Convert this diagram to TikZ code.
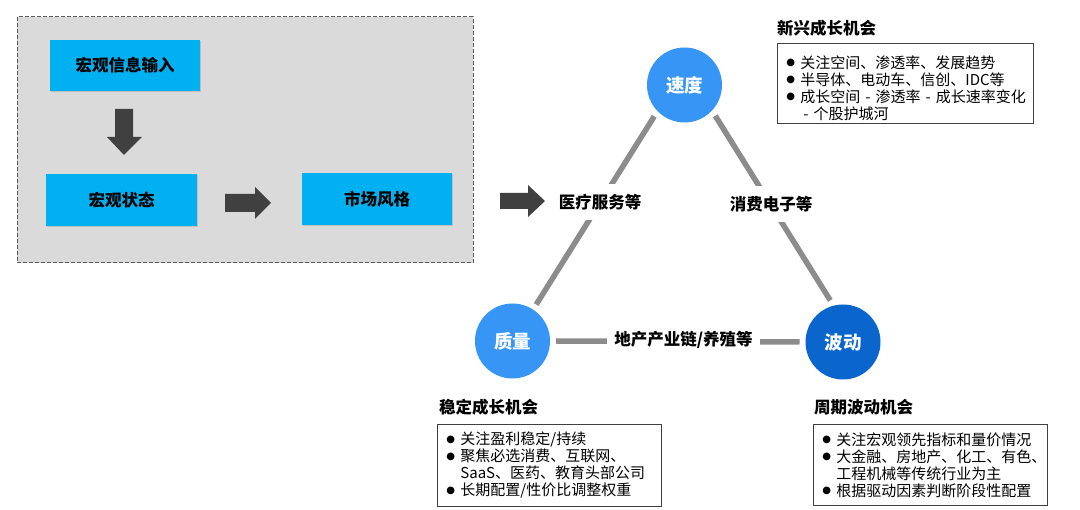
\documentclass[tikz,border=0pt]{standalone}
\usepackage{fontspec}
\setmainfont{Noto Sans CJK SC}
\newfontfamily\djv{DejaVu Sans}
\usetikzlibrary{shadows}
\definecolor{boxcyan}{RGB}{0,176,240}
\definecolor{panelgray}{RGB}{218,218,218}
\definecolor{paneledge}{RGB}{90,90,90}
\definecolor{arrowgray}{RGB}{64,64,64}
\definecolor{edgegray}{RGB}{140,140,140}
\definecolor{lightblue}{RGB}{55,150,245}
\definecolor{darkblue}{RGB}{10,102,204}
\newcommand{\bl}[1]{\makebox[14pt][l]{\raisebox{2.3pt}{\djv\fontsize{10}{10}\selectfont ●}}\mbox{#1}}
\newcommand{\cont}[1]{\hspace*{14pt}\mbox{#1}}
\begin{document}
\begin{tikzpicture}[x=1pt,y=-1pt,
  cyanbox/.style={fill=boxcyan, inner sep=0pt, font=\fontsize{16.5}{20}\selectfont\bfseries,
    drop shadow={shadow xshift=1.2pt, shadow yshift=-1.2pt, opacity=0.3}},
  ball/.style={circle, minimum size=75pt, inner sep=0pt, outer sep=6pt, text=white,
    font=\fontsize{18.5}{22}\selectfont\bfseries},
  edgeline/.style={draw=edgegray, line width=5.5pt},
  edgelabel/.style={fill=white, inner xsep=7pt, inner ysep=0pt, minimum height=36pt,
    font=\fontsize{16.5}{20}\selectfont\bfseries},
  blockarrow/.style={fill=arrowgray},
  infotitle/.style={anchor=west, inner sep=0pt, font=\fontsize{16.5}{20}\selectfont\bfseries},
  infobox/.style={draw=black!75, line width=0.8pt, anchor=north west, align=left,
    inner xsep=9pt, inner ysep=0pt, font=\fontsize{15}{17}\selectfont}
]
\useasboundingbox (0,0) rectangle (1080,510);
\fill[white] (0,0) rectangle (1080,510);

% left panel
\draw[fill=panelgray, draw=paneledge, line width=1pt, dash pattern=on 4pt off 2pt] (17,17) rectangle (473,263);
\node[cyanbox, minimum width=150pt, minimum height=51pt] (input) at (125,65.5) {宏观信息输入};
\node[cyanbox, minimum width=151pt, minimum height=52pt] (state) at (121.5,200) {宏观状态};
\node[cyanbox, minimum width=150pt, minimum height=52pt] (style) at (377,199) {市场风格};

% block arrows
\fill[blockarrow] (115,109) -- (133,109) -- (133,137) -- (142,137) -- (124,155) -- (107,137) -- (115,137) -- cycle;
\fill[blockarrow] (225,194) -- (255,194) -- (255,187) -- (271,203) -- (255,219) -- (255,212) -- (225,212) -- cycle;
\fill[blockarrow] (500,193) -- (528,193) -- (528,185) -- (545,201) -- (528,217) -- (528,209) -- (500,209) -- cycle;

% triangle
\node[ball, fill=lightblue] (speed) at (684.5,85) {速度};
\node[ball, fill=lightblue] (quality) at (512.5,341) {质量};
\node[ball, fill=darkblue] (wave) at (843,342) {波动};

\draw[edgeline] (speed.-134) -- (quality.57);
\draw[edgeline] (speed.-45) -- (wave.107);
\draw[edgeline] (quality.east) -- (wave.west);

\node[edgelabel] (medical) at (600,202.5) {医疗服务等};
\node[edgelabel] (consumer) at (771,204.5) {消费电子等};
\node[edgelabel, minimum height=20pt] (estate) at (683.5,340) {地产产业链/养殖等};

% info boxes
\node[infotitle] (t1) at (777,28) {新兴成长机会};
\node[infobox, minimum width=256pt, minimum height=80pt, text width=238pt] (b1) at (777,43)
  {\rule{0pt}{22pt}\bl{关注空间、渗透率、发展趋势}\\
   \bl{半导体、电动车、信创、IDC等}\\
   \bl{成长空间 - 渗透率 - 成长速率变化}\\
   \cont{\hspace*{3pt}- 个股护城河}};

\node[infotitle] (t2) at (439,407) {稳定成长机会};
\node[infobox, minimum width=224pt, minimum height=82pt, text width=206pt] (b2) at (437,424)
  {\bl{关注盈利稳定/持续}\\
   \bl{聚焦必选消费、互联网、}\\
   \cont{SaaS、医药、教育头部公司}\\
   \bl{长期配置/性价比调整权重}};

\node[infotitle] (t3) at (814,407) {周期波动机会};
\node[infobox, minimum width=234pt, minimum height=81pt, text width=216pt] (b3) at (813,424)
  {\bl{关注宏观领先指标和量价情况}\\
   \bl{大金融、房地产、化工、有色、}\\
   \cont{工程机械等传统行业为主}\\
   \bl{根据驱动因素判断阶段性配置}};
\end{tikzpicture}
\end{document}
